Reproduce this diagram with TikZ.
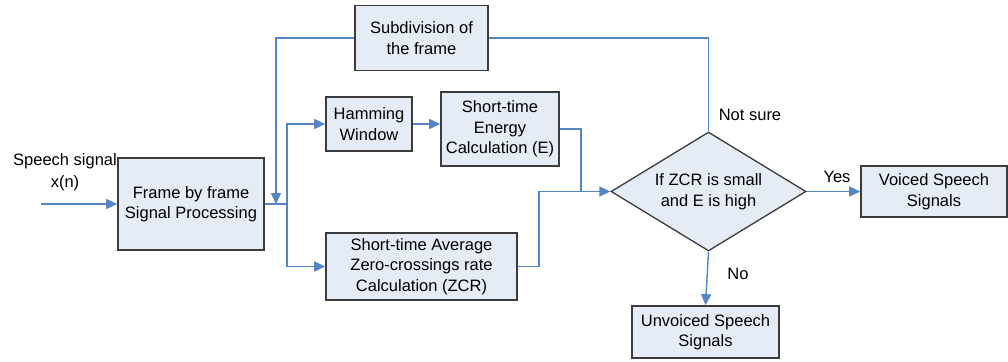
\documentclass[tikz,border=0pt]{standalone}
\usepackage{fontspec}
\setmainfont{Liberation Sans}
\usetikzlibrary{shapes.geometric,arrows.meta}
\definecolor{boxfill}{HTML}{E6ECF6}
\definecolor{boxline}{HTML}{3C3C3C}
\definecolor{wire}{HTML}{5585C8}
\tikzset{
  x=1pt,y=-1pt,
  every node/.style={font=\fontsize{16.5}{20.5}\selectfont, inner sep=0pt, align=center},
  blk/.style={draw=boxline, line width=1.6pt, fill=boxfill},
  dec/.style={diamond, aspect=1.64, draw=boxline, line width=1.3pt, fill=boxfill},
  wire/.style={draw=wire, line width=1.4pt},
  arr/.style={wire, -{Triangle[length=11pt,width=10pt]}},
  lbl/.style={}
}
\begin{document}
\begin{tikzpicture}
\useasboundingbox (0,0) rectangle (1008,361);
% blocks
\node[blk, minimum width=133pt, minimum height=65pt] (sub) at (421.5,38) {Subdivision of\\the frame};
\node[blk, minimum width=86pt, minimum height=54pt] (ham) at (369,124) {Hamming\\Window};
\node[blk, minimum width=118pt, minimum height=74pt] (energy) at (500,129) {Short-time\\Energy\\Calculation (E)};
\node[blk, minimum width=146pt, minimum height=92pt] (frame) at (191,204) {Frame by frame\\Signal Processing};
\node[blk, minimum width=191pt, minimum height=67pt] (zcr) at (421.5,266.5) {Short-time Average\\Zero-crossings rate\\Calculation (ZCR)};
\node[dec, minimum width=195pt, minimum height=119pt] (dia) at (708.5,191.5) {If ZCR is small\\and E is high};
\node[blk, minimum width=146pt, minimum height=51pt] (voiced) at (934,191.5) {Voiced Speech\\Signals};
\node[blk, minimum width=147pt, minimum height=52pt] (unvoiced) at (705.5,332) {Unvoiced Speech\\Signals};
% labels
\node[lbl] (sig) at (65,172) {Speech signal\\[1.5pt]x(n)};
\node[lbl] (yes) at (837,177) {Yes};
\node[lbl] (no) at (738,274) {No};
\node[lbl] (ns) at (750,115) {Not sure};
% coordinates
\coordinate (in) at (41,204);
\coordinate (split) at (287,204);
\coordinate (fb) at (276,204);
\coordinate (ej) at (581,191.5);
\coordinate (zj) at (539,191.5);
% connectors
\draw[arr] (in) -- (frame.west);
\draw[wire] (frame.east) -- (split);
\draw[arr] (split) |- (ham.west);
\draw[arr] (split) |- (zcr.west);
\draw[arr] (sub.west) -| (fb);
\draw[wire] (dia.north) |- (sub.east);
\draw[arr] (ham.east) -- (energy.west |- ham.east);
\draw[wire] (energy.east) -| (ej);
\draw[arr] (zcr.east) -| (zj) -- (dia.west);
\draw[arr] (dia.east) -- (voiced.west);
\draw[arr] (dia.south) -- (unvoiced.north);
\end{tikzpicture}
\end{document}
